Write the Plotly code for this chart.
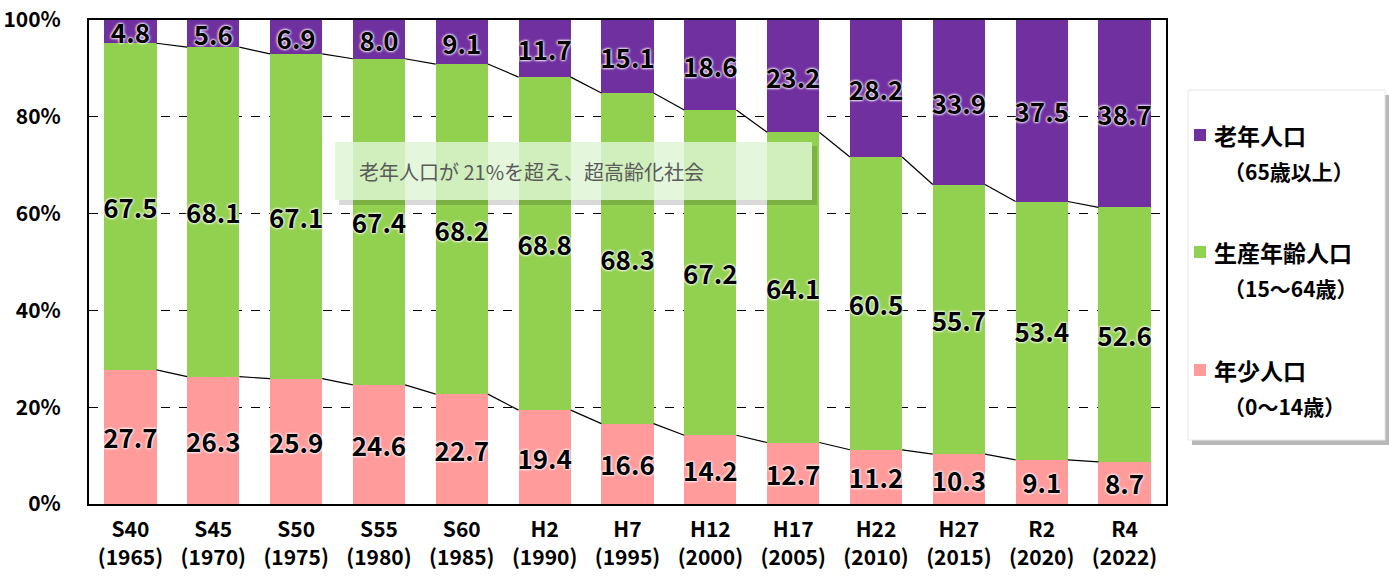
import numpy as np
import plotly.graph_objects as go

# --- data ---
periods = ["S40", "S45", "S50", "S55", "S60", "H2", "H7", "H12", "H17", "H22", "H27", "R2", "R4"]
years = ["1965", "1970", "1975", "1980", "1985", "1990", "1995", "2000", "2005", "2010", "2015", "2020", "2022"]
young = [27.7, 26.3, 25.9, 24.6, 22.7, 19.4, 16.6, 14.2, 12.7, 11.2, 10.3, 9.1, 8.7]
working = [67.5, 68.1, 67.1, 67.4, 68.2, 68.8, 68.3, 67.2, 64.1, 60.5, 55.7, 53.4, 52.6]
elderly = [4.8, 5.6, 6.9, 8.0, 9.1, 11.7, 15.1, 18.6, 23.2, 28.2, 33.9, 37.5, 38.7]
ytick_vals = [0, 20, 40, 60, 80, 100]

series_names = ["年少人口", "生産年齢人口", "老年人口"]
series_ages = ["（0～14歳）", "（15～64歳）", "（65歳以上）"]
COLORS = ["#FF9B9B", "#92D050", "#7030A0"]

FONT = "Noto Sans CJK JP, sans-serif"
W, H = 1389, 585
L, R, T, B = 89, 223, 20, 81
BAR_W = 0.63

x = np.arange(len(periods))
ticktext = [f"{p}<br>({y})" for p, y in zip(periods, years)]


# helpers for paper coords from pixel positions
def px_x(p):
    return (p - L) / (W - L - R)


def px_y(p):
    return (H - B - p) / (H - T - B)


fig = go.Figure()

for vals, name, col in zip([young, working, elderly], series_names, COLORS):
    fig.add_trace(go.Bar(
        x=x, y=vals, name=name,
        marker=dict(color=col, line=dict(width=0)),
        width=BAR_W,
        text=[f"{v:.1f}" for v in vals],
        textposition="inside", insidetextanchor="middle",
        textangle=0, constraintext="none",
        textfont=dict(family=FONT, size=26, color="black", weight="bold",
                      shadow="0 0 3px white, 0 0 3px white, 0 0 2px white"),
        hoverinfo="skip", showlegend=False,
    ))

# series lines between bars (tops of young and working segments)
cum1 = np.array(young)
cum2 = cum1 + np.array(working)
for cum in (cum1, cum2):
    lx, ly = [], []
    for i in range(len(x) - 1):
        lx += [x[i] + BAR_W / 2, x[i + 1] - BAR_W / 2, None]
        ly += [cum[i], cum[i + 1], None]
    fig.add_trace(go.Scatter(x=lx, y=ly, mode="lines", line=dict(color="black", width=1.2),
                             showlegend=False, hoverinfo="skip"))

# legend box with shadow (drawn by hand so entries line up like the original)
lx0, lx1, ly0, ly1 = 1188, 1385, 90, 440
fig.add_shape(type="rect", xref="paper", yref="paper", layer="below",
              x0=px_x(lx0 + 4), x1=px_x(lx1 + 4), y0=px_y(ly1 + 5), y1=px_y(ly0 + 5),
              fillcolor="rgba(0,0,0,0.28)", line=dict(width=0))
fig.add_shape(type="rect", xref="paper", yref="paper", layer="below",
              x0=px_x(lx0), x1=px_x(lx1), y0=px_y(ly1), y1=px_y(ly0),
              fillcolor="white", line=dict(color="#e8e8e8", width=1))

legend_rows = [135, 252, 370]  # pixel y of the first line of each entry (top to bottom)
for row, name, ages, col in zip(legend_rows, series_names[::-1], series_ages[::-1], COLORS[::-1]):
    fig.add_shape(type="rect", xref="paper", yref="paper", layer="above",
                  x0=px_x(1194), x1=px_x(1206), y0=px_y(row + 6), y1=px_y(row - 6),
                  fillcolor=col, line=dict(width=0))
    fig.add_annotation(xref="paper", yref="paper", x=px_x(1212), y=px_y(row),
                       xanchor="left", yanchor="middle", showarrow=False, text=name,
                       font=dict(family=FONT, size=23, weight="bold", color="black"))
    fig.add_annotation(xref="paper", yref="paper", x=px_x(1222), y=px_y(row + 36),
                       xanchor="left", yanchor="middle", showarrow=False, text=ages,
                       font=dict(family=FONT, size=21, weight="bold", color="black"))

# callout box
bx0, bx1, by0, by1 = 335, 812, 142, 200
fig.add_shape(type="path", xref="paper", yref="paper", layer="above",
              path=(f"M{px_x(bx0 + 4)},{px_y(by1)} L{px_x(bx1)},{px_y(by1)} L{px_x(bx1)},{px_y(by0 + 4)} "
                    f"L{px_x(bx1 + 5)},{px_y(by0 + 4)} L{px_x(bx1 + 5)},{px_y(by1 + 5)} "
                    f"L{px_x(bx0 + 4)},{px_y(by1 + 5)} Z"),
              fillcolor="rgba(0,0,0,0.15)", line=dict(width=0))
fig.add_shape(type="rect", xref="paper", yref="paper", layer="above",
              x0=px_x(bx0), x1=px_x(bx1), y0=px_y(by1), y1=px_y(by0),
              fillcolor="rgba(222,245,212,0.82)", line=dict(width=0))
fig.add_annotation(xref="paper", yref="paper", x=px_x(357), y=px_y(171),
                   xanchor="left", yanchor="middle", showarrow=False,
                   text="老年人口が 21%を超え、超高齢化社会",
                   font=dict(family="Noto Sans CJK JP", size=20, color="#5a5a5a"))

fig.update_layout(
    width=W, height=H,
    margin=dict(l=L, r=R, t=T, b=B, autoexpand=False),
    paper_bgcolor="white", plot_bgcolor="white",
    barmode="stack",
    font=dict(family=FONT, color="black"),
    showlegend=False,
    xaxis=dict(
        tickmode="array", tickvals=x, ticktext=ticktext,
        range=[-0.5, len(x) - 0.5], tickangle=0, automargin=False,
        showline=True, linecolor="black", linewidth=2, mirror=True,
        ticks="", showgrid=False, ticklabelstandoff=6,
        tickfont=dict(family=FONT, size=21, weight="bold"),
    ),
    yaxis=dict(
        range=[0, 100], tickmode="array", tickvals=ytick_vals,
        ticktext=[f"{v}%" for v in ytick_vals], automargin=False,
        ticklabeloverflow="allow",
        showline=True, linecolor="black", linewidth=2, mirror=True,
        ticks="inside", ticklen=8, tickcolor="black",
        showgrid=True, gridcolor="black", gridwidth=1.2, griddash="dash",
        zeroline=False,
        ticklabelstandoff=22,
        tickfont=dict(family=FONT, size=21, weight="bold"),
    ),
)

# drop the browser's default body margin so the figure sits at the page corner
fig.write_html("out.html", config={"displayModeBar": False},
               post_script="document.body.style.margin='0';")
